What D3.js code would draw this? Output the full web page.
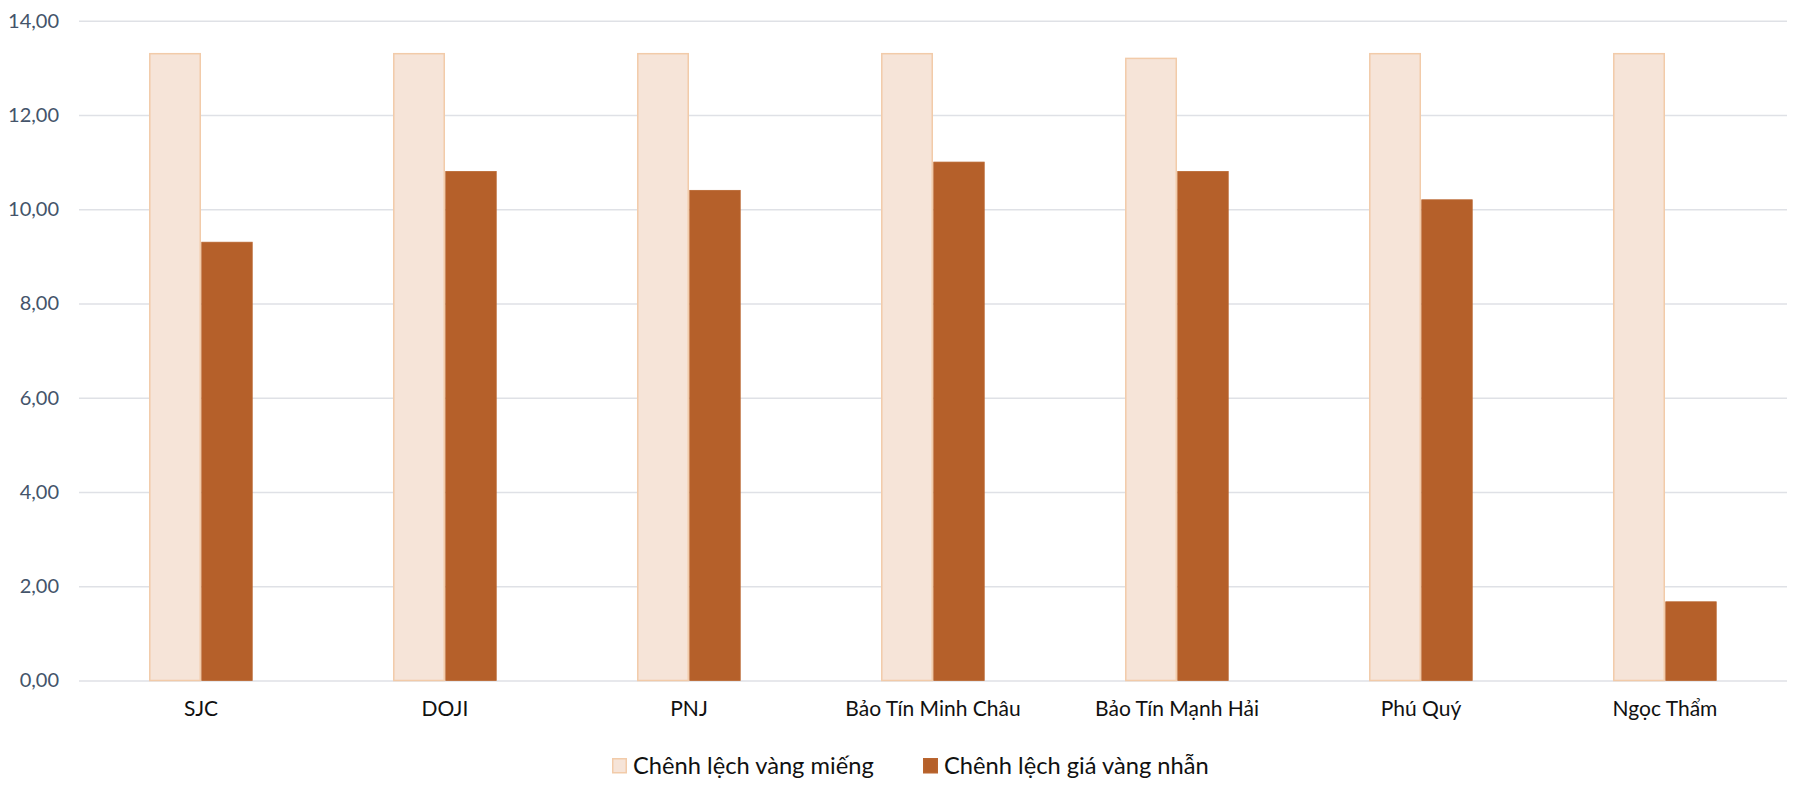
<!DOCTYPE html>
<html>
<head>
<meta charset="utf-8">
<script src="https://cdn.jsdelivr.net/npm/d3@7"></script>
<style>
  body { margin: 0; background: #fff; }
  svg { display: block; font-family: Lato, "Open Sans", sans-serif; }
</style>
</head>
<body>
<svg width="1806" height="796"></svg>
<script>
var categories = ["SJC", "DOJI", "PNJ", "Bảo Tín Minh Châu", "Bảo Tín Mạnh Hải", "Phú Quý", "Ngọc Thẩm"];
var seriesNames = ["Chênh lệch vàng miếng", "Chênh lệch giá vàng nhẫn"];
var vangMieng = [13.3, 13.3, 13.3, 13.3, 13.2, 13.3, 13.3];
var vangNhan = [9.3, 10.8, 10.4, 11.0, 10.8, 10.2, 1.67];
var yTicks = [0, 2, 4, 6, 8, 10, 12, 14];

var fills = ["#f6e4d8", "#b5602a"];
var strokes = ["#f2cba9", "#b9652f"];

var margin = {top: 20.7, right: 19, bottom: 115.5, left: 79};
var W = 1806, H = 796;

var svg = d3.select("svg");

var x0 = d3.scaleBand()
    .domain(categories)
    .range([margin.left, W - margin.right])
    .paddingInner(0.574)
    .paddingOuter(0.287);

var x1 = d3.scaleBand()
    .domain([0, 1])
    .range([0, x0.bandwidth()]);

var y = d3.scaleLinear()
    .domain([0, 14])
    .range([H - margin.bottom, margin.top]);

// gridlines + y labels
var yAxis = svg.append("g")
    .attr("transform", "translate(" + margin.left + ",0)")
    .call(d3.axisLeft(y)
        .tickValues(yTicks)
        .tickSize(-(W - margin.left - margin.right))
        .tickPadding(20)
        .tickFormat(function(d) { return d3.format(".2f")(d).replace(".", ","); }));
yAxis.select(".domain").remove();
yAxis.selectAll(".tick line").attr("stroke", "#dfe1e6").attr("stroke-width", 1.6);
yAxis.selectAll(".tick text")
    .attr("fill", "#44546a")
    .style("font-size", "20px")
    .style("font-family", "Lato, sans-serif");

var data = categories.map(function(c, i) {
    return {cat: c, vals: [vangMieng[i], vangNhan[i]]};
});

var groups = svg.selectAll("g.grp")
    .data(data)
    .enter().append("g")
    .attr("class", "grp")
    .attr("transform", function(d) { return "translate(" + x0(d.cat) + ",0)"; });

groups.selectAll("rect")
    .data(function(d) { return d.vals; })
    .enter().append("rect")
    .attr("x", function(d, i) { return x1(i) + 0.75; })
    .attr("width", x1.bandwidth() - 1.5)
    .attr("y", function(d) { return y(d); })
    .attr("height", function(d) { return y(0) - y(d); })
    .attr("fill", function(d, i) { return fills[i]; })
    .attr("stroke", function(d, i) { return strokes[i]; })
    .attr("stroke-width", function(d, i) { return i == 0 ? 1.5 : 0.8; });

// x labels
var xAxis = svg.append("g")
    .attr("transform", "translate(0," + y(0) + ")")
    .call(d3.axisBottom(x0).tickSize(0).tickPadding(21));
xAxis.select(".domain").remove();
xAxis.selectAll(".tick text")
    .attr("fill", "#111")
    .style("font-size", "21px")
    .style("font-family", "Lato, sans-serif");

// legend
var legendX = [612, 923];
var legend = svg.append("g").attr("transform", "translate(0,758)");
var li = legend.selectAll("g")
    .data(seriesNames)
    .enter().append("g")
    .attr("transform", function(d, i) { return "translate(" + legendX[i] + ",0)"; });
li.append("rect")
    .attr("x", 0.75).attr("y", 0.75)
    .attr("width", 13.5).attr("height", 14)
    .attr("fill", function(d, i) { return fills[i]; })
    .attr("stroke", function(d, i) { return strokes[i]; })
    .attr("stroke-width", 1.5);
li.append("text")
    .attr("x", 21)
    .attr("y", 16)
    .attr("fill", "#111")
    .style("font-size", "23.7px")
    .text(function(d) { return d; });
</script>
</body>
</html>
